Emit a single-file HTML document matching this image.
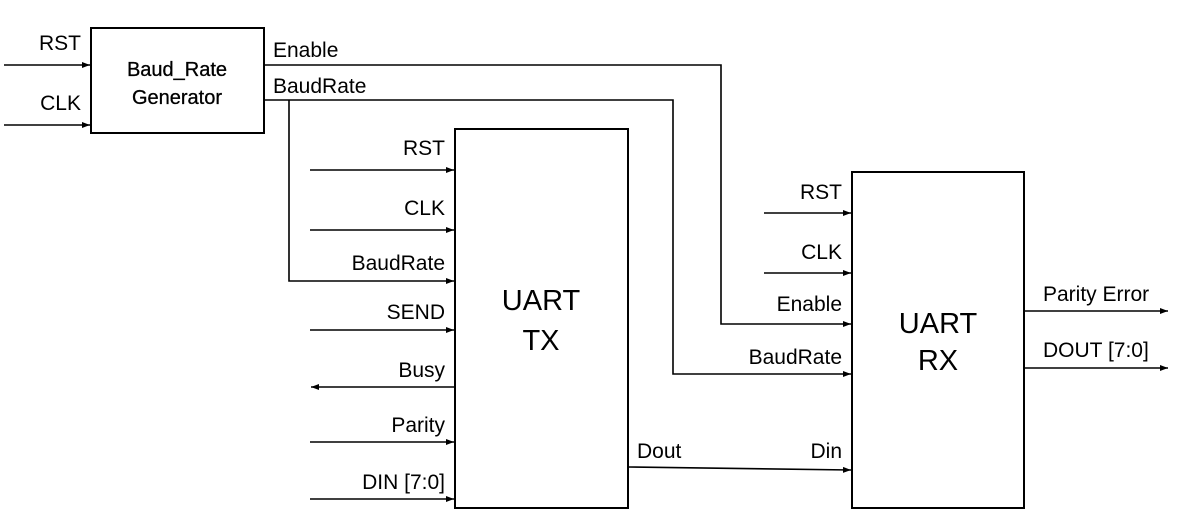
<!DOCTYPE html>
<html><head><style>body{margin:0;background:#fff}svg{display:block}text{font-family:"Liberation Sans","Noto Sans CJK KR",sans-serif;fill:#000}</style></head><body>
<svg width="1184" height="523" xmlns="http://www.w3.org/2000/svg">
<defs><marker id="a" markerWidth="8" markerHeight="6" refX="8" refY="3" orient="auto" markerUnits="userSpaceOnUse"><path d="M0,0 L8,3 L0,6z" fill="#000"/></marker></defs>
<g fill="none" stroke="#000" stroke-width="2">
<rect x="91" y="28" width="173" height="105"/>
<rect x="455" y="129" width="173" height="379"/>
<rect x="852" y="172" width="172" height="336"/>
</g>
<g fill="none" stroke="#000" stroke-width="1.6" marker-end="url(#a)">
<line x1="4" y1="65" x2="90" y2="65"/>
<line x1="4" y1="125" x2="90" y2="125"/>
<polyline points="264,65 721,65 721,324 851,324"/>
<polyline points="264,100 673,100 673,374 851,374"/>
<polyline points="289,100 289,281 454,281"/>
<line x1="310" y1="170" x2="454" y2="170"/>
<line x1="310" y1="230" x2="454" y2="230"/>
<line x1="310" y1="330" x2="454" y2="330"/>
<line x1="455" y1="387" x2="311" y2="387"/>
<line x1="310" y1="442" x2="454" y2="442"/>
<line x1="310" y1="499" x2="454" y2="499"/>
<line x1="764" y1="213" x2="851" y2="213"/>
<line x1="764" y1="273" x2="851" y2="273"/>
<line x1="628" y1="467" x2="851" y2="470"/>
<line x1="1024" y1="311" x2="1168" y2="311"/>
<line x1="1024" y1="368" x2="1168" y2="368"/>
</g>
<g font-size="21">
<text x="81" y="50" text-anchor="end">RST</text>
<text x="81" y="110" text-anchor="end">CLK</text>
<text x="177" y="76" text-anchor="middle" font-size="20" stroke="#000" stroke-width="0.3">Baud_Rate</text>
<text x="177" y="104" text-anchor="middle" font-size="20" stroke="#000" stroke-width="0.3">Generator</text>
<text x="273" y="57">Enable</text>
<text x="273" y="93">BaudRate</text>
<g text-anchor="end">
<text x="445" y="155">RST</text>
<text x="445" y="215">CLK</text>
<text x="445" y="270">BaudRate</text>
<text x="445" y="319">SEND</text>
<text x="445" y="377">Busy</text>
<text x="445" y="432">Parity</text>
<text x="445" y="489">DIN [7:0]</text>
<text x="842" y="199">RST</text>
<text x="842" y="259">CLK</text>
<text x="842" y="311">Enable</text>
<text x="842" y="364">BaudRate</text>
<text x="842" y="458">Din</text>
</g>
<text x="637" y="458">Dout</text>
<text x="1043" y="301">Parity Error</text>
<text x="1043" y="357">DOUT [7:0]</text>
</g>
<g font-size="29" text-anchor="middle">
<text x="541" y="310">UART</text>
<text x="541" y="350">TX</text>
<text x="938" y="333">UART</text>
<text x="938" y="370">RX</text>
</g>
</svg>
</body></html>
